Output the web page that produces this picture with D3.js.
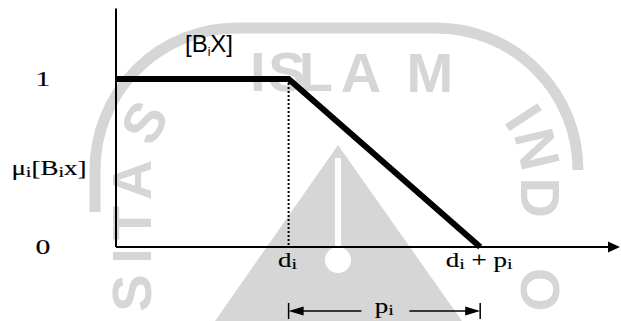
<!DOCTYPE html>
<html>
<head>
<meta charset="utf-8">
<script src="https://cdn.jsdelivr.net/npm/d3@7"></script>
<style>
  body { margin: 0; background: #fff; }
  svg { display: block; }
</style>
</head>
<body>
<div id="chart"></div>
<script>
;(function () {

    // membership function mu_i[B_i x]: 1 up to d_i, then falls to 0 at d_i + p_i
    var xBreaks = [0, 1, 2.11];          // 0, d_i, d_i + p_i (d_i = 1 unit)
    var membership = [1, 1, 0];
    var yTicks = [0, 1];
    var yTickLabels = ['0', '1'];
    var xTickValues = [1, 2.11];
    var xTickLabels = ['d_i', 'd_i + p_i'];
    var spanLabel = 'p_i';
    var seriesLabel = '[B_iX]';
    var yTitle = '\u03bc_i[B_ix]';
    var xMax = 2.92, yMax = 1.42;

    // watermark letters and where they sit along the logo ring (px along path)
    var wmLetters = ['S', 'I', 'T', 'A', 'S', 'I', 'S', 'L', 'A', 'M', 'I', 'N', 'D', 'O'];
    var wmOffsets = [47, 84, 117, 160, 220, 352, 381, 410, 455, 524, 633, 668, 717, 809];

    var width = 621
        , height = 321
        , serif = '"Liberation Serif", "Times New Roman", serif'
        , sans = '"Liberation Sans", Arial, sans-serif'
        , wmColor = '#d6d6d6';

    var svg = d3.select('#chart').append('svg')
        .attr('width', width)
        .attr('height', height);

    var x = d3.scaleLinear().domain([0, xMax]).range([116, 620]);
    var y = d3.scaleLinear().domain([0, 1]).range([247, 79]);

    // splits "d_i + p_i" into normal / subscript parts
    function parts(label) {
        var out = [], re = /_(\w)/g, last = 0, m;
        while ((m = re.exec(label)) !== null) {
            if (m.index > last) out.push({ t: label.slice(last, m.index), sub: false });
            out.push({ t: m[1], sub: true });
            last = re.lastIndex;
        }
        if (last < label.length) out.push({ t: label.slice(last), sub: false });
        return out;
    }

    function richText(g, label, size, subSize, subDy) {
        var text = g.append('text');
        parts(label).forEach(function (p, i, arr) {
            var prevSub = i > 0 && arr[i - 1].sub;
            text.append('tspan')
                .attr('font-size', p.sub ? subSize : size)
                .attr('dy', p.sub ? subDy : (prevSub ? -subDy : 0))
                .style('white-space', 'pre')
                .text(p.t);
        });
        return text;
    }

    function serifLabel(cx, baseline, label, size) {
        var g = svg.append('g')
            .attr('transform', 'translate(' + cx + ',' + baseline + ') scale(1.35,1)');
        richText(g, label, size, Math.round(size * 0.74), 2)
            .attr('font-family', serif)
            .attr('text-anchor', 'middle')
            .attr('fill', '#000')
            .attr('stroke', '#000')
            .attr('stroke-width', 0.15);
        return g;
    }

    // ---- watermark (faint university logo behind the chart) ----
    var wm = svg.append('g').attr('class', 'watermark');

    wm.append('path')
        .attr('d', 'M95,212 L95,170 A142 142 0 0 1 237,28 L436,28 A142 142 0 0 1 578,170')
        .attr('fill', 'none')
        .attr('stroke', wmColor)
        .attr('stroke-width', 11);

    wm.append('path')
        .attr('d', 'M338,145 L462,321 L215,321 Z')
        .attr('fill', wmColor);
    wm.append('rect')
        .attr('x', 335).attr('y', 158).attr('width', 6).attr('height', 88)
        .attr('fill', '#fff');
    wm.append('circle')
        .attr('cx', 338).attr('cy', 260).attr('r', 13)
        .attr('fill', '#fff');

    var ring = wm.append('path')
        .attr('d', 'M131,340 L131,172 A100 100 0 0 1 231,72 L440,72 A100 100 0 0 1 540,172 L540,340')
        .attr('fill', 'none')
        .node();

    wmLetters.forEach(function (ch, i) {
        var L = wmOffsets[i]
            , p = ring.getPointAtLength(L)
            , q = ring.getPointAtLength(L + 1)
            , ang = Math.atan2(q.y - p.y, q.x - p.x) * 180 / Math.PI;
        wm.append('text')
            .attr('transform', 'translate(' + p.x + ',' + p.y + ') rotate(' + ang + ')')
            .attr('font-family', sans)
            .attr('font-size', 56)
            .attr('font-weight', 'bold')
            .attr('text-anchor', 'middle')
            .attr('dominant-baseline', 'central')
            .attr('fill', wmColor)
            .text(ch);
    });

    // ---- axes ----
    svg.append('line')
        .attr('x1', x(0)).attr('x2', x(0))
        .attr('y1', y(0)).attr('y2', y(yMax))
        .attr('stroke', '#000')
        .attr('stroke-width', 2);

    svg.append('line')
        .attr('x1', x(0)).attr('x2', x(xMax) - 9)
        .attr('y1', y(0)).attr('y2', y(0))
        .attr('stroke', '#000')
        .attr('stroke-width', 2);

    svg.append('path')
        .attr('d', d3.line()([[x(xMax), y(0)], [x(xMax) - 12, y(0) - 5.5], [x(xMax) - 12, y(0) + 5.5]]) + 'Z')
        .attr('fill', '#000');

    // y tick labels, well left of the axis
    yTicks.forEach(function (v, i) {
        serifLabel(43, y(v) + 7, yTickLabels[i], 22);
    });

    // y title
    serifLabel(49, 175, yTitle, 20);

    // dotted guide at d_i
    svg.append('line')
        .attr('x1', x(xBreaks[1])).attr('x2', x(xBreaks[1]))
        .attr('y1', y(membership[1])).attr('y2', y(0))
        .attr('stroke', '#000')
        .attr('stroke-width', 2)
        .attr('stroke-dasharray', '2,2');

    // membership line
    var line = d3.line()
        .x(function (d) { return x(d[0]); })
        .y(function (d) { return y(d[1]); });

    svg.append('path')
        .datum(d3.zip(xBreaks, membership))
        .attr('d', line)
        .attr('fill', 'none')
        .attr('stroke', '#000')
        .attr('stroke-width', 6)
        .attr('stroke-linejoin', 'miter');

    // series label
    var sg = svg.append('g').attr('transform', 'translate(185,52)');
    richText(sg, seriesLabel, 24, 12, 4)
        .attr('font-family', sans)
        .attr('fill', '#000');

    // x tick labels
    xTickValues.forEach(function (v, i) {
        serifLabel(x(v) - 1, 267, xTickLabels[i], 20);
    });

    // p_i dimension arrow
    var dimY = 311
        , x1 = x(xTickValues[0])
        , x2 = x(xTickValues[1])
        , mid = (x1 + x2) / 2;

    [x1, x2].forEach(function (xx) {
        svg.append('line')
            .attr('x1', xx).attr('x2', xx)
            .attr('y1', dimY - 8).attr('y2', dimY + 8)
            .attr('stroke', '#000')
            .attr('stroke-width', 1.5);
    });

    svg.append('line')
        .attr('x1', x1 + 12).attr('x2', mid - 23)
        .attr('y1', dimY).attr('y2', dimY)
        .attr('stroke', '#000').attr('stroke-width', 1.5);
    svg.append('line')
        .attr('x1', mid + 25).attr('x2', x2 - 12)
        .attr('y1', dimY).attr('y2', dimY)
        .attr('stroke', '#000').attr('stroke-width', 1.5);

    svg.append('path')
        .attr('d', d3.line()([[x1, dimY], [x1 + 15, dimY - 4.5], [x1 + 15, dimY + 4.5]]) + 'Z')
        .attr('fill', '#000');
    svg.append('path')
        .attr('d', d3.line()([[x2, dimY], [x2 - 15, dimY - 4.5], [x2 - 15, dimY + 4.5]]) + 'Z')
        .attr('fill', '#000');

    serifLabel(mid, 313, spanLabel, 20);

}());
</script>
</body>
</html>
